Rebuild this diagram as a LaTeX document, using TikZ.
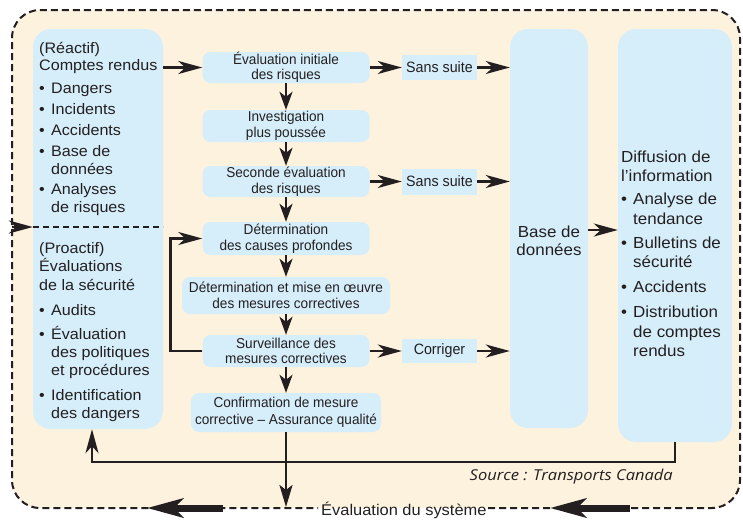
\documentclass[tikz,border=0pt]{standalone}
\usepackage{fontspec}
\setmainfont{Liberation Sans}[FakeStretch=1.06]
\newfontfamily\midfont{Liberation Sans}[FakeStretch=0.95]
\newfontfamily\srcfont{Open Sans}[FakeStretch=1.1]
\usetikzlibrary{arrows.meta}
\definecolor{beige}{RGB}{253,242,222}
\definecolor{lblue}{RGB}{214,238,250}
\definecolor{ink}{RGB}{35,31,32}
\newcommand{\myb}{\makebox[12pt][l]{•}}
\newcommand{\myi}{\hspace*{12pt}}
\begin{document}
\begin{tikzpicture}[x=1pt, y=-1pt,
  every node/.style={text=ink},
  mbox/.style={fill=lblue, rounded corners=8pt, minimum width=167pt, minimum height=31pt, inner sep=0pt, align=center, font=\midfont\fontsize{14.3}{15.5}\selectfont},
  sbox/.style={fill=lblue, minimum width=75pt, minimum height=25pt, inner sep=0pt, font=\midfont\fontsize{15}{15}\selectfont},
  tall/.style={fill=lblue, rounded corners=18pt, inner sep=0pt},
  txt/.style={align=left, inner sep=0pt, anchor=north west},
  arr/.style={draw=ink, line width=2.5pt, -{Stealth[length=24pt,width=13pt,inset=7pt]}},
  varr/.style={draw=ink, line width=2.5pt, -{Stealth[length=18pt,width=13pt,inset=5pt]}},
  thickarr/.style={draw=ink, line width=7pt, -{Stealth[length=36pt,width=19pt,inset=9pt]}},
  border/.style={draw=ink, line width=2pt, dash pattern=on 7pt off 4pt, rounded corners=28pt}
]
\useasboundingbox (0,0) rectangle (743,520);
% background
\fill[beige, rounded corners=28pt] (12,10) rectangle (740,508);
\draw[border] (488,508) -- (740,508) -- (740,10) -- (12,10) -- (12,508) -- (318,508);

% tall boxes
\node[tall, minimum width=130pt, minimum height=400pt] (L) at (98,229) {};
\node[tall, minimum width=78pt, minimum height=399pt] (Base) at (549,228.5) {};
\node[tall, minimum width=114pt, minimum height=413pt] (D) at (675,235.5) {};

% left box texts
\node[txt, font=\fontsize{15.2}{17.5}\selectfont] (Lt) at (39,42) {(Réactif)\\Comptes rendus\\[5.5pt]\myb Dangers\\[3.5pt]\myb Incidents\\[3.5pt]\myb Accidents\\[3.5pt]\myb Base de\\\myi données\\[3pt]\myb Analyses\\\myi de risques};
\node[txt, font=\fontsize{15.2}{18}\selectfont] (Lb) at (39,242) {(Proactif)\\Évaluations\\[1pt]de la sécurité\\[7pt]\myb Audits\\[6pt]\myb Évaluation\\\myi des politiques\\\myi et procédures\\[7pt]\myb Identification\\\myi des dangers};
\coordinate (dvL) at (33,227);
\coordinate (dvR) at (163,227);
\draw[draw=ink, line width=1.8pt, dash pattern=on 6pt off 4pt] (dvL) -- (dvR);

% base and diffusion texts
\node[align=center, inner sep=0pt, font=\fontsize{16}{18}\selectfont] (Bt) at (549,241) {Base de\\données};
\node[txt, font=\fontsize{16}{19.5}\selectfont] (Dt) at (621,150.5) {Diffusion de\\l’information\\[3.5pt]\myb Analyse de\\\myi tendance\\[4.5pt]\myb Bulletins de\\\myi sécurité\\[5.5pt]\myb Accidents\\[5.5pt]\myb Distribution\\\myi de comptes\\\myi rendus};

% middle boxes
\node[mbox] (B1) at (286,67.5) {Évaluation initiale\\des risques};
\node[mbox, minimum height=32pt] (B2) at (286,126) {Investigation\\plus poussée};
\node[mbox] (B3) at (286,181.5) {Seconde évaluation\\des risques};
\node[mbox, minimum height=33pt] (B4) at (286,238.5) {Détermination\\des causes profondes};
\node[mbox, minimum width=208pt, minimum height=37pt, font=\midfont\fontsize{14.3}{16}\selectfont] (B5) at (286,295.5) {Détermination et mise en œuvre\\des mesures correctives};
\node[mbox, minimum height=32pt] (B6) at (286,351) {Surveillance des\\mesures correctives};
\node[mbox, minimum width=190pt, minimum height=39pt, font=\midfont\fontsize{14.3}{16.5}\selectfont] (B7) at (286,412.5) {Confirmation de mesure\\corrective – Assurance qualité};

\node[sbox] (S1) at (439.5,67.5) {Sans suite};
\node[sbox, minimum height=26pt] (S2) at (439.5,181.5) {Sans suite};
\node[sbox, minimum height=24pt] (C) at (439.5,351) {Corriger};

% arrows
\draw[arr] (L.east |- B1) -- (B1.west);
\coordinate (inL) at (12,227);
\draw[arr] (inL) -- (inL -| L.west);
\draw[varr] (B1) -- (B2);
\draw[varr] (B2) -- (B3);
\draw[varr] (B3) -- (B4);
\draw[varr] (B4) -- (B5);
\draw[varr] (B5) -- (B6);
\draw[varr] (B6) -- (B7);
\draw[arr] (B1) -- (S1);
\draw[arr] (B3) -- (S2);
\draw[arr] (B6) -- (C);
\draw[arr] (S1.east) -- (S1.east -| Base.west);
\draw[arr] (S2.east) -- (S2.east -| Base.west);
\draw[arr] (C.east) -- (C.east -| Base.west);
\coordinate (bd) at (0,230);
\draw[arr] (bd -| Base.east) -- (bd -| D.west);
\draw[arr] (B6.west) -- ++(-32,0) |- (B4.west);
\coordinate (hc) at (92,462);
\draw[arr] (D.south) |- (hc) -- (hc |- L.south);
\coordinate (sysT) at (286,507);
\draw[varr, -{Stealth[length=22pt,width=13pt,inset=5pt]}] (B7) -- (sysT);

% bottom thick arrows and label
\coordinate (tl1) at (223,508);
\coordinate (tl2) at (147,508);
\coordinate (tr1) at (630,508);
\coordinate (tr2) at (550,508);
\draw[thickarr] (tl1) -- (tl2);
\draw[thickarr] (tr1) -- (tr2);
\node[anchor=base west, inner sep=0pt, font=\fontsize{15.5}{18}\selectfont] (sys) at (321,515) {Évaluation du système};
\node[anchor=base east, inner sep=0pt, font=\srcfont\itshape\fontsize{15}{17}\selectfont] (src) at (673,480) {Source : Transports Canada};
\end{tikzpicture}
\end{document}
